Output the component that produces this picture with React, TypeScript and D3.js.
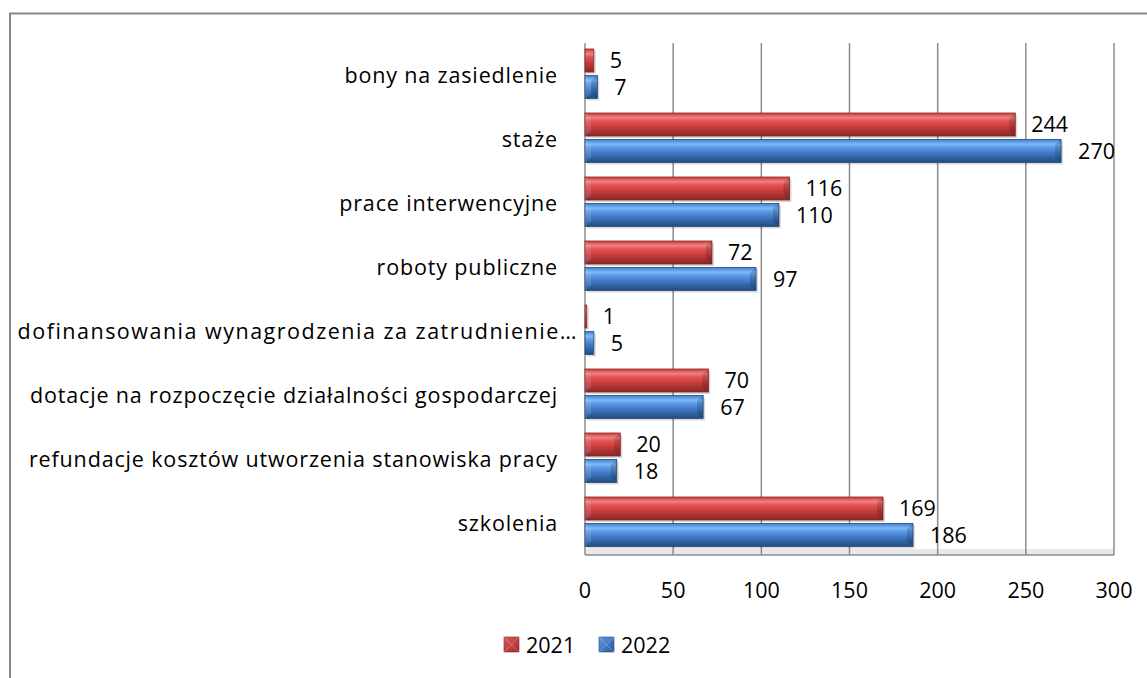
import React from "react";
import * as d3 from "d3";

const categories = [
  "bony na zasiedlenie",
  "staże",
  "prace interwencyjne",
  "roboty publiczne",
  "dofinansowania wynagrodzenia za zatrudnienie…",
  "dotacje na rozpoczęcie działalności gospodarczej",
  "refundacje kosztów utworzenia stanowiska pracy",
  "szkolenia",
];
const values2021 = [5, 244, 116, 72, 1, 70, 20, 169];
const values2022 = [7, 270, 110, 97, 5, 67, 18, 186];
const xTicks = [0, 50, 100, 150, 200, 250, 300];
const seriesNames = ["2021", "2022"];

const FONT = "'Open Sans', Lato, sans-serif";
const FS = 21.5;

export default function App() {
  const W = 1147, H = 678;
  const x = d3.scaleLinear().domain([0, 300]).range([585, 1114]);
  const y = d3.scaleBand().domain(categories).range([43, 555]);
  const bh = 23;

  const bar = (v: number, yy: number, grad: string, edge: string, key: string) => {
    const x0 = x(0), x1 = x(v);
    const w = Math.max(x1 - x0, 1.5);
    return (
      <g key={key}>
        <rect x={x0 + 2} y={yy + 2} width={w} height={bh} fill="#000" opacity={0.15} />
        <rect x={x0} y={yy} width={w} height={bh} fill={`url(#${grad})`} stroke={edge} strokeWidth={0.8} />
        {w > 12 && (
          <path d={`M${x0},${yy} L${x0 + 6},${yy + 5} L${x0 + 6},${yy + bh - 5} L${x0},${yy + bh} Z`} fill="#fff" opacity={0.12} />
        )}
        {w > 12 && (
          <path d={`M${x0 + w},${yy} L${x0 + w - 6},${yy + 5} L${x0 + w - 6},${yy + bh - 5} L${x0 + w},${yy + bh} Z`} fill="#000" opacity={0.15} />
        )}
      </g>
    );
  };

  return (
    <svg width={W} height={H} style={{ position: "absolute", left: 0, top: 0 }} fontFamily={FONT}>
      <defs>
        <linearGradient id="gRed" x1="0" y1="0" x2="0" y2="1">
          <stop offset="0" stopColor="#d23c3c" />
          <stop offset="0.2" stopColor="#f08080" />
          <stop offset="0.35" stopColor="#e05454" />
          <stop offset="0.6" stopColor="#c83b3b" />
          <stop offset="0.8" stopColor="#a83232" />
          <stop offset="1" stopColor="#8a2626" />
        </linearGradient>
        <linearGradient id="gBlue" x1="0" y1="0" x2="0" y2="1">
          <stop offset="0" stopColor="#3f7fd0" />
          <stop offset="0.2" stopColor="#7fbaf5" />
          <stop offset="0.35" stopColor="#5b9ae6" />
          <stop offset="0.6" stopColor="#3f78c4" />
          <stop offset="0.8" stopColor="#2f619f" />
          <stop offset="1" stopColor="#244d80" />
        </linearGradient>
        <linearGradient id="gRedL" x1="0" y1="0" x2="1" y2="1">
          <stop offset="0" stopColor="#e05a5a" />
          <stop offset="1" stopColor="#a02c2c" />
        </linearGradient>
        <linearGradient id="gBlueL" x1="0" y1="0" x2="1" y2="1">
          <stop offset="0" stopColor="#5f9ce6" />
          <stop offset="1" stopColor="#2b5a98" />
        </linearGradient>
      </defs>
      <rect x={0} y={0} width={W} height={H} fill="#fff" />
      {/* chart border */}
      <path d={`M10,${H} L10,13.5 L${W},13.5`} fill="none" stroke="#888" strokeWidth={2} />

      {/* floor */}
      <rect x={585} y={549} width={529} height={6} fill="#e8e8e8" />
      {/* grid */}
      {xTicks.map((t) => (
        <line key={t} x1={x(t)} x2={x(t)} y1={43} y2={555} stroke="#8c8c8c" strokeWidth={1.5} />
      ))}
      <line x1={585} x2={1114} y1={555} y2={555} stroke="#8c8c8c" strokeWidth={1.5} />

      {/* bars */}
      {categories.map((c, i) => {
        const b = y(c)!;
        return (
          <g key={c}>
            {bar(values2021[i], b + 6, "gRed", "#8a2626", "r" + i)}
            {bar(values2022[i], b + 32.5, "gBlue", "#244d80", "b" + i)}
            <text x={x(values2021[i]) + 16} y={b + 6 + bh / 2} dy="0.36em" fontSize={FS} fill="#000">
              {values2021[i]}
            </text>
            <text x={x(values2022[i]) + 17} y={b + 32.5 + bh / 2} dy="0.36em" fontSize={FS} fill="#000">
              {values2022[i]}
            </text>
            <text
              x={i === 4 ? 578 : 558}
              y={b + 32}
              dy="0.36em"
              textAnchor="end"
              fontSize={FS}
              letterSpacing={i === 4 ? 1.5 : 0.85}
              fill="#000"
            >
              {c}
            </text>
          </g>
        );
      })}

      {/* x tick labels */}
      {xTicks.map((t) => (
        <text key={t} x={x(t)} y={590} dy="0.36em" textAnchor="middle" fontSize={FS} fill="#000">
          {t}
        </text>
      ))}

      {/* legend */}
      {seriesNames.map((s, i) => {
        const lx = i === 0 ? 504 : 599;
        return (
          <g key={s}>
            <rect x={lx} y={637} width={15} height={15} fill={i === 0 ? "url(#gRedL)" : "url(#gBlueL)"} stroke={i === 0 ? "#8a2626" : "#244d80"} strokeWidth={0.6} />
            <path d={`M${lx},${637} L${lx + 15},${652} M${lx + 15},${637} L${lx},${652}`} stroke="#fff" strokeOpacity={0.25} strokeWidth={1} />
            <text x={lx + 22} y={645} dy="0.36em" fontSize={FS} fill="#000">
              {s}
            </text>
          </g>
        );
      })}
    </svg>
  );
}
